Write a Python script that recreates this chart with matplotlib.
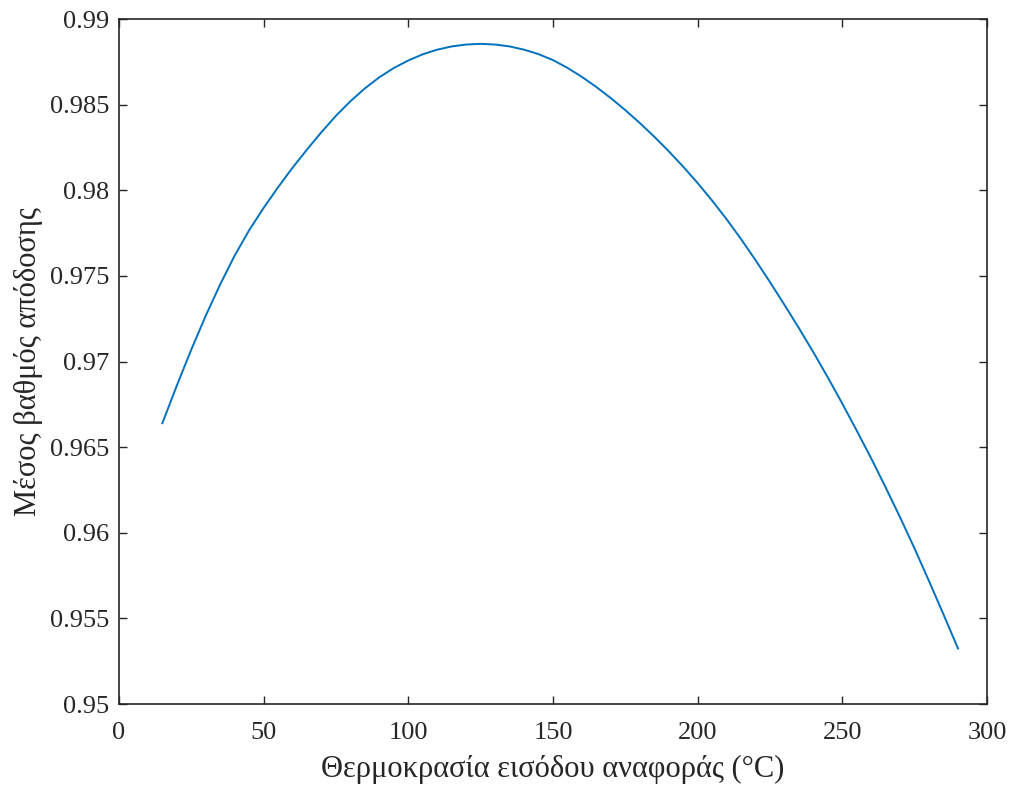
import matplotlib
matplotlib.use('Agg')
import matplotlib.pyplot as plt
from matplotlib import ticker

# values (every 5 degrees)
temp_in = [15, 20, 25, 30, 35, 40, 45, 50, 55, 60, 65, 70, 75, 80, 85, 90,
           95, 100, 105, 110, 115, 120, 125, 130, 135, 140, 145, 150, 155,
           160, 165, 170, 175, 180, 185, 190, 195, 200, 205, 210, 215, 220,
           225, 230, 235, 240, 245, 250, 255, 260, 265, 270, 275, 280, 285, 290]
efficiency = [0.96640, 0.96860, 0.97070, 0.97268, 0.97451, 0.97619, 0.97767,
              0.97897, 0.98018, 0.98132, 0.98238, 0.98340, 0.98435, 0.98520,
              0.98595, 0.98660, 0.98714, 0.98758, 0.98794, 0.98821, 0.98840,
              0.98851, 0.98855, 0.98851, 0.98840, 0.98821, 0.98795, 0.98760,
              0.98715, 0.98662, 0.98603, 0.98538, 0.98468, 0.98393, 0.98313,
              0.98228, 0.98138, 0.98042, 0.97940, 0.97831, 0.97715, 0.97592,
              0.97464, 0.97331, 0.97195, 0.97054, 0.96907, 0.96754, 0.96596,
              0.96434, 0.96264, 0.96089, 0.95907, 0.95717, 0.95522, 0.95324]

x_ticks = [0, 50, 100, 150, 200, 250, 300]
y_ticks = [0.95, 0.955, 0.96, 0.965, 0.97, 0.975, 0.98, 0.985, 0.99]

plt.rcParams['font.family'] = ['Liberation Serif', 'DejaVu Serif']

fig = plt.figure(figsize=(10.1, 7.86), dpi=100)
ax = fig.add_axes([0.1178, 0.1043, 0.8594, 0.8715])

ax.plot(temp_in, efficiency, color='#0072BD', lw=1.4)

ax.set_xlim(0, 300)
ax.set_ylim(0.95, 0.99)
ax.set_xticks(x_ticks)
ax.set_yticks(y_ticks)
ax.yaxis.set_major_formatter(ticker.FuncFormatter(lambda v, p: '%g' % round(v, 4)))

ax.tick_params(direction='in', length=6, width=1.0, colors='#262626',
               labelsize=19, top=True, right=True)
ax.tick_params(axis='x', pad=13)
ax.tick_params(axis='y', pad=7)
for s in ax.spines.values():
    s.set_color('#262626')
    s.set_linewidth(1.2)

ax.set_xlabel('Θερμοκρασία εισόδου αναφοράς (°C)', fontsize=22, color='#262626', labelpad=8)
ax.set_ylabel('Μέσος βαθμός απόδοσης', fontsize=22, color='#262626', labelpad=5)

fig.savefig('out.png', dpi=100)
